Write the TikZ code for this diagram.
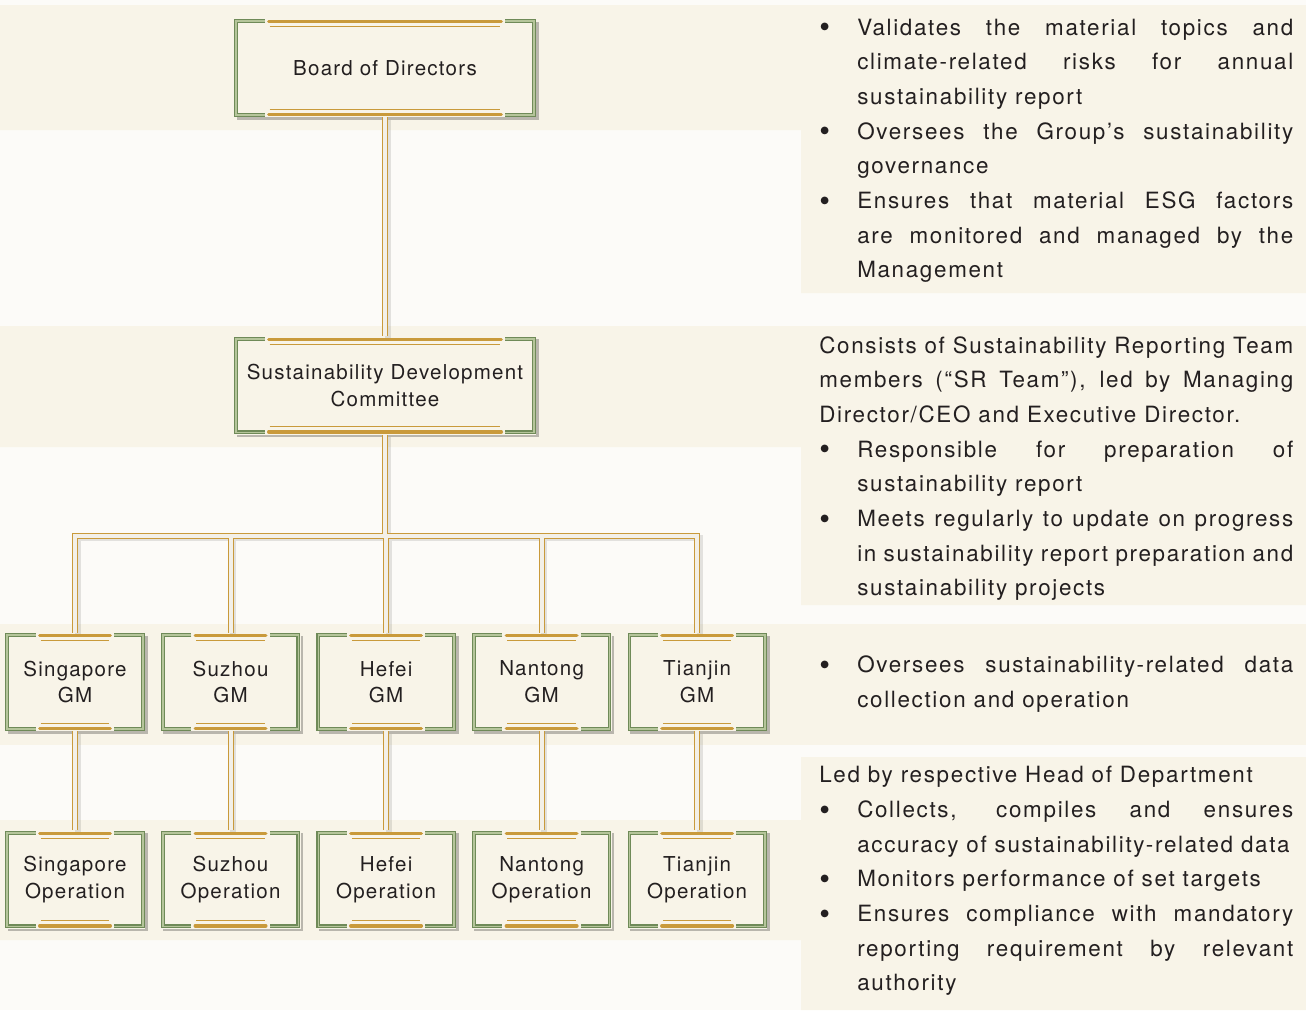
\documentclass[tikz,border=0pt]{standalone}
\usepackage{fontspec}
\setmainfont{TeX Gyre Heros}
\newfontfamily\boxfont{TeX Gyre Heros}[LetterSpace=6]
\newfontfamily\notefont{TeX Gyre Heros}[LetterSpace=7.5]
\usetikzlibrary{positioning,shadows}

\definecolor{cream}{HTML}{F8F4E8}
\definecolor{paper}{HTML}{FCFBF8}
\definecolor{gold}{HTML}{C99A3B}
\definecolor{leaf}{HTML}{6F8A58}
\definecolor{leaflight}{HTML}{B5C59A}
\definecolor{ink}{HTML}{231F20}
\definecolor{pipe}{HTML}{F3F0E8}

% bullet line with hanging indent
\newcommand{\bul}{\leavevmode\hangindent=28.5pt\hangafter=1%
  \makebox[28.5pt][l]{\raisebox{-2pt}{\fontsize{23pt}{26pt}\selectfont\textbullet}}\strut}

\tikzset{
  strip/.style={fill=cream},
  orgbox/.style={fill=cream, minimum width=105pt, minimum height=73.5pt, inner sep=0pt,
    align=center, text=ink, font={\boxfont\fontsize{15.4pt}{20pt}\selectfont},
    drop shadow={shadow xshift=2pt, shadow yshift=-2pt, opacity=.25, fill=black}},
  wide/.style={orgbox, minimum width=226.5pt},
  link/.style={draw=gold, line width=.75pt, double=pipe, double distance=3pt},
  linkshade/.style={draw=black, opacity=.1, line width=4.5pt,
    transform canvas={xshift=2pt, yshift=-2pt}},
  frame/.style={draw=leaf, line width=.8pt, double=leaflight, double distance=1.2pt},
  bar/.style={draw=gold, line width=2.6pt, line cap=round},
  rule/.style={draw=gold, line width=.9pt},
  note/.style={anchor=north west, inner sep=0pt, text width=355.5pt, align=justify, text=ink,
    font={\notefont\fontsize{16.8pt}{26pt}\selectfont\parindent=0pt\hyphenpenalty=10000\exhyphenpenalty=10000}}
}

\begin{document}
\begin{tikzpicture}[x=0.75pt, y=-0.75pt]
  \useasboundingbox (0,0) rectangle (1306,1010);
  \fill[paper] (0,0) rectangle (1306,1010);

  % background strips
  \fill[strip] (0,5) rectangle (1306,130) (801,5) rectangle (1306,293);
  \fill[strip] (0,326) rectangle (1306,447) (801,326) rectangle (1306,605);
  \fill[strip] (0,624) rectangle (1306,745);
  \fill[strip] (0,820) rectangle (1306,940) (801,757) rectangle (1306,1010);

  \node[wide] (board) at (385,68) {Board of Directors};
  \node[wide, below=164.25pt of board] (sdc) {Sustainability Development\\Committee};

  \node[orgbox] (gmsin) at (75,682) {Singapore\\GM};
  \node[orgbox, right=11.25pt of gmsin] (gmsuz) {Suzhou\\GM};
  \node[orgbox, right=11.25pt of gmsuz] (gmhef) {Hefei\\GM};
  \node[orgbox, right=11.25pt of gmhef] (gmnan) {Nantong\\GM};
  \node[orgbox, right=11.25pt of gmnan] (gmtia) {Tianjin\\GM};

  \node[orgbox, below=74.25pt of gmsin] (opsin) {Singapore\\Operation};
  \node[orgbox, below=74.25pt of gmsuz] (opsuz) {Suzhou\\Operation};
  \node[orgbox, below=74.25pt of gmhef] (ophef) {Hefei\\Operation};
  \node[orgbox, below=74.25pt of gmnan] (opnan) {Nantong\\Operation};
  \node[orgbox, below=74.25pt of gmtia] (optia) {Tianjin\\Operation};

  % connectors
  \foreach \s in {linkshade,link}
    \draw[\s] (board) -- (sdc)
      (sdc.south) -- ++(0,101) coordinate (hub)
      (gmsin.north) |- (hub) -| (gmtia.north)
      (gmsuz.north |- hub) -- (gmsuz.north)
      (gmhef.north |- hub) -- (gmhef.north)
      (gmnan.north |- hub) -- (gmnan.north)
      foreach \c in {sin,suz,hef,nan,tia} {(gm\c) -- (op\c)};

  % box trims
  \foreach \n in {board,sdc,gmsin,gmsuz,gmhef,gmnan,gmtia,opsin,opsuz,ophef,opnan,optia} {
    \draw[frame] ([shift={(31,2.5)}]\n.north west) -- ([shift={(2.5,2.5)}]\n.north west)
      -- ([shift={(2.5,-2.5)}]\n.south west) -- ([shift={(31,-2.5)}]\n.south west);
    \draw[frame] ([shift={(-31,2.5)}]\n.north east) -- ([shift={(-2.5,2.5)}]\n.north east)
      -- ([shift={(-2.5,-2.5)}]\n.south east) -- ([shift={(-31,-2.5)}]\n.south east);
    \draw[rule] ([shift={(36,8)}]\n.north west) -- ([shift={(-36,8)}]\n.north east)
      ([shift={(36,-8)}]\n.south west) -- ([shift={(-36,-8)}]\n.south east);
    \draw[bar] ([shift={(35,3)}]\n.north west) -- ([shift={(-35,3)}]\n.north east)
      ([shift={(35,-3)}]\n.south west) -- ([shift={(-35,-3)}]\n.south east);
  }

  % notes on the right
  \node[note] (boardnote) at (819,10.7) {%
    \bul Validates the material topics and\linebreak climate-related risks for annual\linebreak sustainability report
    \par\bul Oversees the Group’s sustainability\linebreak governance
    \par\bul Ensures that material ESG factors\linebreak are monitored and managed by the\linebreak Management\par};
  \node[note] (sdcnote) at (819,328.7) {%
    \strut Consists of Sustainability Reporting Team\linebreak members (“SR Team”), led by Managing\linebreak Director/CEO and Executive Director.
    \par\bul Responsible for preparation of\linebreak sustainability report
    \par\bul Meets regularly to update on progress\linebreak in sustainability report preparation and\linebreak sustainability projects\par};
  \node[note] (gmnote) at (819,648.4) {%
    \bul Oversees sustainability-related data\linebreak collection and operation\par};
  \node[note] (opnote) at (819,758.4) {%
    \strut Led by respective Head of Department
    \par\bul Collects, compiles and ensures\linebreak accuracy of sustainability-related data
    \par\bul Monitors performance of set targets
    \par\bul Ensures compliance with mandatory\linebreak reporting requirement by relevant\linebreak authority\par};
\end{tikzpicture}
\end{document}
